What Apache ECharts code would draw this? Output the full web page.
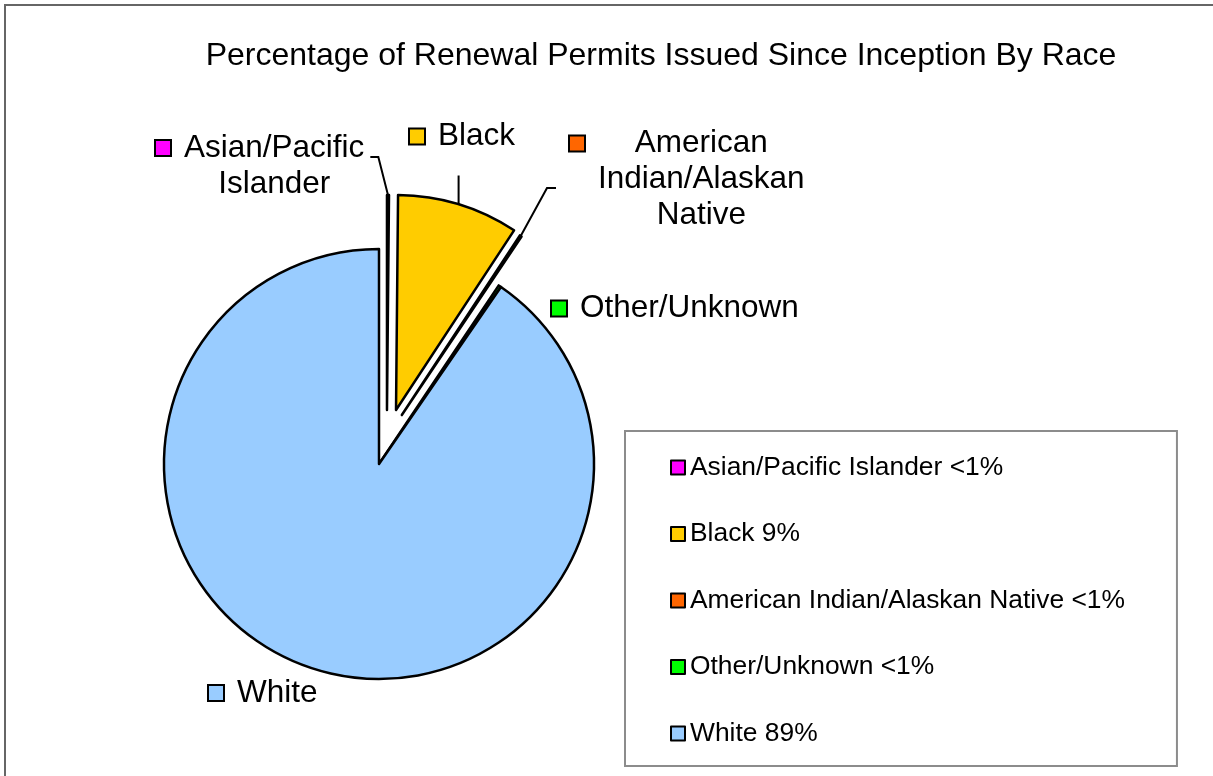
<!DOCTYPE html>
<html><head><meta charset="utf-8">
<script src="https://cdn.jsdelivr.net/npm/echarts@6/dist/echarts.min.js"></script>
<style>html,body{margin:0;padding:0;background:#fff}#c{width:1213px;height:776px}</style>
</head><body><div id="c"></div>
<script>
// ---- data ----
const categories = ['Asian/Pacific Islander', 'Black', 'American Indian/Alaskan Native', 'Other/Unknown', 'White'];
const values = [0.15, 9.1, 0.15, 0.2, 90.4];
const legendPct = ['<1%', '9%', '<1%', '<1%', '89%'];
const labelTexts = ['Asian/Pacific\nIslander', 'Black', 'American\nIndian/Alaskan\nNative', 'Other/Unknown', 'White'];
const titleText = 'Percentage of Renewal Permits Issued Since Inception By Race';

// ---- styles / layout ----
const colors = ['#FF00FF', '#FFCC00', '#FF6600', '#00FF00', '#99CCFF'];
// explosion per slice: [distance px, direction in degrees clockwise from 12 o'clock] (null = not exploded)
const explode = [[54.6, 8.4], [56.6, 17.5], [54, 25], null, null];
const FONT = '"Liberation Sans", Arial, sans-serif';
const CX = 379, CY = 464, R = 215;
const LABEL_FS = 31.5, LABEL_LH = 36;
const labelPos = [[156, 130], [410, 118.5], [570, 125.5], [552, 290.5], [209, 675]];
const leaders = [
  { type: 'right', dy: 27, gap: 6, len: 8 },
  { type: 'bottom', gap: 21 },
  { type: 'left', dy: 62.5, gap: 14, len: 9 },
  null, null
];

const cv = document.createElement('canvas').getContext('2d');
function textW(s, fs) { cv.font = fs + 'px ' + FONT; return cv.measureText(s).width; }

const total = values.reduce((a, b) => a + b, 0);
let cum = 0;
const midAngles = values.map(v => { const m = (cum + v / 2) / total * Math.PI * 2; cum += v; return m; });
const centers = values.map((v, i) => {
  if (!explode[i]) return [CX, CY];
  const d = explode[i][0], a = explode[i][1] * Math.PI / 180;
  return [CX + d * Math.sin(a), CY - d * Math.cos(a)];
});
const textWidths = labelTexts.map(t => Math.max(...t.split('\n').map(l => textW(l, LABEL_FS))));

function labelFor(i) {
  const lines = labelTexts[i].split('\n');
  const str = lines.map((l, k) => (k === 0 ? '{sq|}{g|}' : '{sp|}') + '{c|' + l + '}').join('\n');
  return {
    show: true,
    formatter: str,
    color: '#000',
    fontFamily: FONT,
    fontSize: LABEL_FS,
    lineHeight: LABEL_LH,
    rich: {
      sq: { width: 14, height: 14, backgroundColor: colors[i], borderColor: '#000', borderWidth: 2, align: 'left' },
      g: { width: 14, align: 'left' },
      sp: { width: 28, align: 'left' },
      c: { width: textWidths[i], align: 'center', fontSize: LABEL_FS, fontFamily: FONT, color: '#000', lineHeight: LABEL_LH }
    }
  };
}

function layoutFn(params) {
  const i = params.dataIndex;
  const [x, y] = labelPos[i];
  const out = { x: x, y: y, align: 'left', verticalAlign: 'top' };
  const ld = leaders[i];
  if (ld) {
    const c = centers[i], a = midAngles[i];
    const p0 = [c[0] + R * Math.sin(a), c[1] - R * Math.cos(a)];
    const nLines = labelTexts[i].split('\n').length;
    const right = x + 28 + textWidths[i];
    const bottom = y + nLines * LABEL_LH;
    if (ld.type === 'right') {
      const p2 = [right + ld.gap, y + ld.dy];
      out.labelLinePoints = [p0, [p2[0] + ld.len, p2[1]], p2];
    } else if (ld.type === 'left') {
      const p2 = [x - ld.gap, y + ld.dy];
      out.labelLinePoints = [p0, [p2[0] - ld.len, p2[1]], p2];
    } else {
      const p2 = [p0[0], bottom + ld.gap];
      out.labelLinePoints = [p0, p0.slice(), p2];
    }
  }
  return out;
}

function makeSeries(visible, center) {
  return {
    type: 'pie',
    center: center,
    radius: R,
    startAngle: 90,
    clockwise: true,
    avoidLabelOverlap: false,
    minShowLabelAngle: 0,
    selectedMode: false,
    silent: true,
    animation: false,
    emphasis: { disabled: true },
    itemStyle: { borderColor: '#000', borderWidth: 2.5 },
    labelLine: { show: false, lineStyle: { color: '#000', width: 2 } },
    labelLayout: layoutFn,
    data: categories.map((name, i) => {
      const on = visible.indexOf(i) >= 0;
      return on ? {
        name: name, value: values[i],
        itemStyle: { color: colors[i], borderColor: '#000', borderWidth: 2.5 },
        label: labelFor(i),
        labelLine: { show: !!leaders[i], length: 10, length2: 10, lineStyle: { color: '#000', width: 2 } }
      } : {
        name: name, value: values[i],
        itemStyle: { color: 'rgba(0,0,0,0)', borderWidth: 0 },
        label: { show: false }, labelLine: { show: false }
      };
    })
  };
}

const series = [makeSeries(categories.map((c, i) => i).filter(i => !explode[i]), [CX, CY])];
categories.forEach((c, i) => { if (explode[i]) series.push(makeSeries([i], centers[i])); });

const chart = echarts.init(document.getElementById('c'), null, { renderer: 'canvas' });
chart.setOption({
  backgroundColor: '#fff',
  animation: false,
  title: {
    text: titleText,
    left: 661, top: 40, padding: 0,
    textAlign: 'center',
    textStyle: { fontFamily: FONT, fontSize: 32, fontWeight: 'normal', color: '#000' }
  },
  legend: {
    orient: 'vertical',
    left: 625, top: 431,
    padding: [23.5, 52, 19.5, 45],
    borderColor: '#8c8c8c', borderWidth: 2,
    itemGap: 40.5, itemWidth: 14, itemHeight: 14,
    selectedMode: false,
    icon: 'rect',
    data: categories.map((n, i) => ({ name: n, itemStyle: { color: colors[i], borderColor: '#000', borderWidth: 2 } })),
    formatter: name => name + ' ' + legendPct[categories.indexOf(name)],
    textStyle: { fontFamily: FONT, fontSize: 26.4, lineHeight: 26, color: '#000' }
  },
  graphic: [{
    type: 'rect', silent: true, z: -1,
    shape: { x: 5, y: 5, width: 1400, height: 1000 },
    style: { fill: 'none', stroke: '#666', lineWidth: 2 }
  }],
  series: series
});
</script></body></html>
